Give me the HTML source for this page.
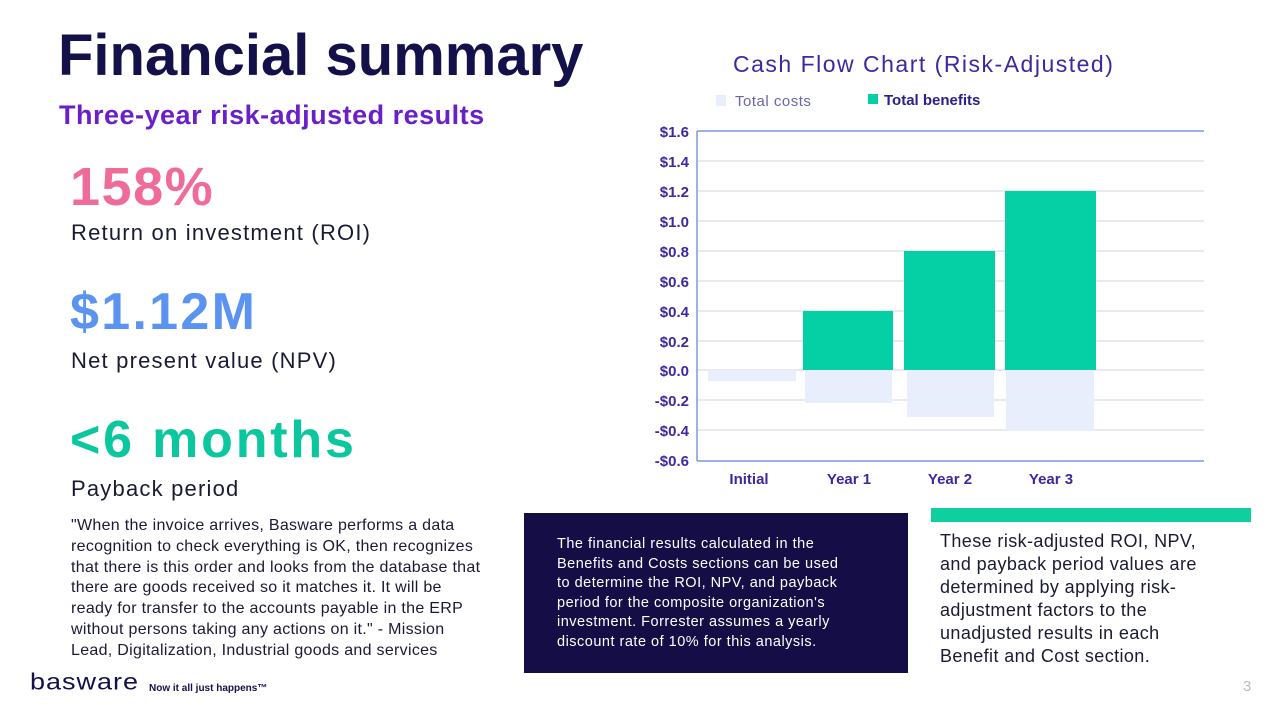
<!DOCTYPE html>
<html><head><meta charset="utf-8"><style>
*{margin:0;padding:0;box-sizing:border-box}
body{width:1280px;height:720px;background:#fff;position:relative;overflow:hidden;font-family:"Liberation Sans",sans-serif;color:#1a1446}
.a{position:absolute;white-space:nowrap}
</style></head><body>
<div class="a" style="left:58px;top:22px;font-size:58px;font-weight:bold;color:#14104a;letter-spacing:0px">Financial summary</div>
<div class="a" style="left:59px;top:100px;font-size:27px;font-weight:bold;color:#6a1fc8;letter-spacing:0.5px">Three-year risk-adjusted results</div>
<div class="a" style="left:70px;top:156px;font-size:54px;font-weight:bold;color:#f06b9a;letter-spacing:1.5px">158%</div>
<div class="a" style="left:71px;top:220px;font-size:22px;color:#1a1a33;letter-spacing:1.2px">Return on investment (ROI)</div>
<div class="a" style="left:70px;top:282px;font-size:52px;font-weight:bold;color:#5b93f0;letter-spacing:2.3px">$1.12M</div>
<div class="a" style="left:71px;top:348px;font-size:22px;color:#1a1a33;letter-spacing:1.2px">Net present value (NPV)</div>
<div class="a" style="left:70px;top:410px;font-size:52px;font-weight:bold;color:#0ac79e;letter-spacing:2.8px">&lt;6 months</div>
<div class="a" style="left:71px;top:476px;font-size:22px;color:#1a1a33;letter-spacing:1.2px">Payback period</div>
<div class="a" style="left:71px;top:516px;font-size:16px;line-height:20.8px;color:#1a1a33;white-space:normal;width:414px;letter-spacing:0.3px">"When the invoice arrives, Basware performs a data recognition to check everything is OK, then recognizes that there is this order and looks from the database that there are goods received so it matches it. It will be ready for transfer to the accounts payable in the ERP without persons taking any actions on it." - Mission Lead, Digitalization, Industrial goods and services</div>
<div class="a" style="left:524px;top:513px;width:384px;height:160px;background:#150d45"></div>
<div class="a" style="left:557px;top:535px;width:298px;font-size:14.5px;line-height:19.5px;color:#fff;white-space:normal;letter-spacing:0.5px">The financial results calculated in the Benefits and Costs sections can be used to determine the ROI, NPV, and payback period for the composite organization's investment. Forrester assumes a yearly discount rate of 10% for this analysis.</div>
<div class="a" style="left:931px;top:508px;width:320px;height:14px;background:#0fcf9f"></div>
<div class="a" style="left:940px;top:530px;width:280px;font-size:18px;line-height:23px;color:#1a1a33;white-space:normal;letter-spacing:0.4px">These risk-adjusted ROI, NPV, and payback period values are determined by applying risk-adjustment factors to the unadjusted results in each Benefit and Cost section.</div>
<div class="a" style="left:30px;top:670px;font-size:27px;color:#14104a;letter-spacing:1px;line-height:28px;transform:scaleY(0.85);transform-origin:top left">basware</div>
<div class="a" style="left:149px;top:683px;font-size:10px;font-weight:bold;color:#14104a">Now it all just happens™</div>
<div class="a" style="left:1243px;top:678px;font-size:15px;color:#bbb">3</div>
<svg class="a" style="left:0;top:0" width="1280" height="720">
<g font-family="Liberation Sans,sans-serif">
<text x="733" y="72" font-size="23" fill="#3a2aa0" letter-spacing="1.5">Cash Flow Chart (Risk-Adjusted)</text>
<rect x="716" y="95" width="10" height="11" fill="#e8eefb"/>
<text x="735" y="106" font-size="15" fill="#6a66a8" letter-spacing="0.5">Total costs</text>
<rect x="868" y="94" width="10" height="10" fill="#05cfa5"/>
<text x="884" y="105" font-size="15" fill="#2a208a" font-weight="bold">Total benefits</text>
<g stroke="#d5d5dd" stroke-width="1">
<line x1="697" x2="1204" y1="161" y2="161"/><line x1="697" x2="1204" y1="191" y2="191"/><line x1="697" x2="1204" y1="221" y2="221"/><line x1="697" x2="1204" y1="251" y2="251"/><line x1="697" x2="1204" y1="281" y2="281"/><line x1="697" x2="1204" y1="311" y2="311"/><line x1="697" x2="1204" y1="341" y2="341"/><line x1="697" x2="1204" y1="370" y2="370"/><line x1="697" x2="1204" y1="400" y2="400"/><line x1="697" x2="1204" y1="430" y2="430"/>
</g>
<g fill="#e8eefb">
<rect x="708" y="370" width="88" height="11"/><rect x="805" y="370" width="87" height="33"/><rect x="907" y="370" width="87" height="47"/><rect x="1006" y="370" width="88" height="61"/>
</g>
<g fill="#05cfa5">
<rect x="803" y="311" width="90" height="59"/><rect x="904" y="251" width="91" height="119"/><rect x="1005" y="191" width="91" height="179"/>
</g>
<g stroke="#7b9bdc" stroke-width="1.5" fill="none">
<line x1="697" x2="1204" y1="131" y2="131"/><line x1="697" x2="1204" y1="461" y2="461"/><line x1="697" x2="697" y1="131" y2="461"/>
</g>
<g font-size="15" fill="#3a2aa0" text-anchor="end" font-weight="bold">
<text x="689" y="137">$1.6</text><text x="689" y="167">$1.4</text><text x="689" y="197">$1.2</text><text x="689" y="227">$1.0</text><text x="689" y="257">$0.8</text><text x="689" y="287">$0.6</text><text x="689" y="317">$0.4</text><text x="689" y="347">$0.2</text><text x="689" y="376">$0.0</text><text x="689" y="406">-$0.2</text><text x="689" y="436">-$0.4</text><text x="689" y="466">-$0.6</text>
</g>
<g font-size="15" fill="#3a2aa0" text-anchor="middle" font-weight="bold">
<text x="749" y="484">Initial</text><text x="849" y="484">Year 1</text><text x="950" y="484">Year 2</text><text x="1051" y="484">Year 3</text>
</g>
</g>
</svg>
</body></html>
